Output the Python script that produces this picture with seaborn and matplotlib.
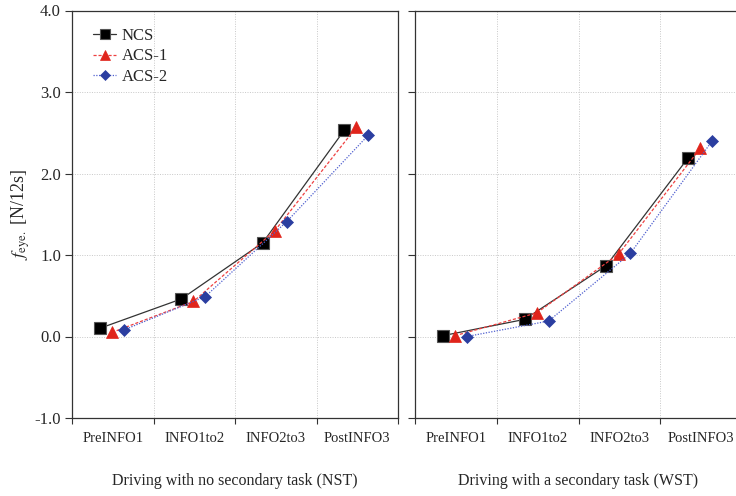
import numpy as np
import pandas as pd
import matplotlib
matplotlib.use("Agg")
import matplotlib.pyplot as plt
import seaborn as sns
from matplotlib.lines import Line2D

categories = ["PreINFO1", "INFO1to2", "INFO2to3", "PostINFO3"]
series_names = ["NCS", "ACS-1", "ACS-2"]

nst_ncs = [0.10, 0.46, 1.15, 2.53]
nst_acs1 = [0.05, 0.43, 1.30, 2.57]
nst_acs2 = [0.08, 0.49, 1.41, 2.47]

wst_ncs = [0.01, 0.21, 0.87, 2.19]
wst_acs1 = [0.01, 0.29, 1.01, 2.31]
wst_acs2 = [0.00, 0.19, 1.02, 2.40]

panel_titles = ["Driving with no secondary task (NST)", "Driving with a secondary task (WST)"]
y_ticks = [-1.0, 0.0, 1.0, 2.0, 3.0, 4.0]

sns.set_theme(style="white")
plt.rcParams["font.family"] = ["Liberation Serif", "DejaVu Serif"]
plt.rcParams["mathtext.fontset"] = "stix"

rows = []
for panel, vals in zip(panel_titles, [(nst_ncs, nst_acs1, nst_acs2), (wst_ncs, wst_acs1, wst_acs2)]):
    for name, v in zip(series_names, vals):
        for i, c in enumerate(categories):
            rows.append({"panel": panel, "series": name, "cat": i, "value": v[i]})
df = pd.DataFrame(rows)

offsets = {"NCS": -0.16, "ACS-1": -0.01, "ACS-2": 0.135}
styles = {
    "NCS": dict(marker="s", linestyle="-", markersize=8, mfc="black", mec="#555555", mew=0.8, lw=0.9),
    "ACS-1": dict(marker="^", linestyle=(0, (2.5, 1.5)), markersize=9, mfc="#e0241b", mec="#e0241b", mew=0.5, lw=0.9),
    "ACS-2": dict(marker="D", linestyle=(0, (1, 1.2)), markersize=6.5, mfc="#2b3ea0", mec="#2b3ea0", mew=0.5, lw=0.9),
}
line_colors = {"NCS": "#333333", "ACS-1": "#ee4040", "ACS-2": "#5060d0"}

fig = plt.figure(figsize=(7.36, 4.96), dpi=100)
ax1 = fig.add_axes([72 / 736, (496 - 418) / 496, 326 / 736, 407.5 / 496])
ax2 = fig.add_axes([415 / 736, (496 - 418) / 496, 327 / 736, 407.5 / 496])

for ax, panel in zip([ax1, ax2], panel_titles):
    sub = df[df["panel"] == panel].copy()
    sub["xpos"] = sub["cat"] + sub["series"].map(offsets)
    for name in series_names:
        s = sub[sub["series"] == name]
        st = styles[name]
        sns.lineplot(data=s, x="xpos", y="value", ax=ax, color=line_colors[name],
                     linestyle=st["linestyle"], linewidth=st["lw"], marker=st["marker"],
                     markersize=st["markersize"], markerfacecolor=st["mfc"],
                     markeredgecolor=st["mec"], markeredgewidth=st["mew"],
                     label=name, sort=False, legend=False)
    ax.set_xlim(-0.5, 3.5)
    ax.set_ylim(-1.0, 4.0)
    ax.set_xticks([-0.5, 0.5, 1.5, 2.5, 3.5])
    ax.set_xticklabels([])
    ax.set_xticks(range(len(categories)), minor=True)
    ax.set_xticklabels(categories, minor=True, fontsize=10.5)
    ax.tick_params(axis="x", which="minor", length=0, pad=10)
    ax.tick_params(axis="x", which="major", length=4, width=0.8, direction="out", bottom=True, color="#333333")
    ax.set_yticks(y_ticks)
    ax.tick_params(axis="y", which="major", length=5, width=0.8, direction="out", left=True, color="#333333",
                   labelsize=12, pad=3)
    ax.grid(True, which="major", linestyle=(0, (1, 1.5)), color="#c8c8c8", linewidth=0.7)
    for sp in ax.spines.values():
        sp.set_color("#333333")
        sp.set_linewidth(0.9)
    ax.set_xlabel(panel, fontsize=11.5, labelpad=20)
    ax.set_ylabel("")

ax1.set_yticklabels([f"{t:.1f}" for t in y_ticks])
ax2.set_yticklabels([])
ax1.set_ylabel(r"$\mathit{f}_{\mathrm{eye.}}$ [N/12s]", fontsize=13, labelpad=2)

handles = []
for name in series_names:
    st = styles[name]
    handles.append(Line2D([], [], color=line_colors[name], linestyle=st["linestyle"], linewidth=st["lw"],
                          marker=st["marker"], markersize=st["markersize"] * 0.85, markerfacecolor=st["mfc"],
                          markeredgecolor=st["mec"], markeredgewidth=st["mew"]))
ax1.legend(handles, series_names, loc="upper left", frameon=False, fontsize=12,
           handlelength=1.35, borderaxespad=0.3, labelspacing=0.25, handletextpad=0.35,
           bbox_to_anchor=(0.03, 0.985))

fig.savefig("out.png", dpi=100, facecolor="white")
